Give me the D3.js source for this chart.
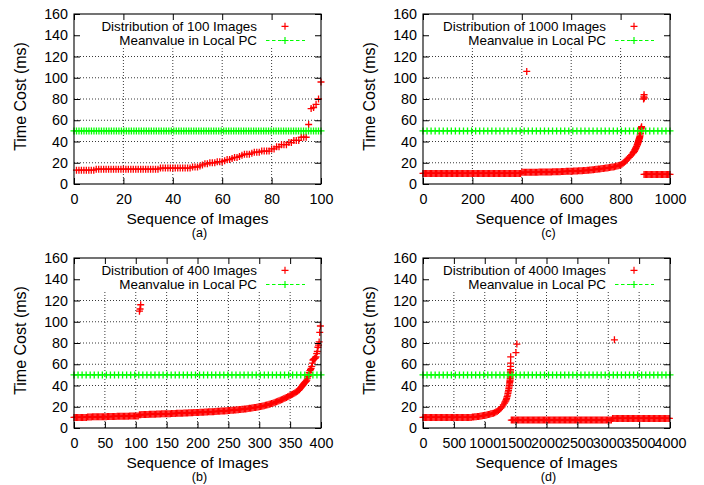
<!DOCTYPE html>
<html>
<head>
<meta charset="utf-8">
<script src="https://cdn.jsdelivr.net/npm/d3@7"></script>
<style>
  body { margin: 0; background: #fff; }
  svg text { font-family: "Liberation Sans", Arial, Helvetica, sans-serif; fill: #000; }
</style>
</head>
<body>
<svg id="fig" width="704" height="485"></svg>
<script>
// ---- data (time cost in ms per image) ----

// (a) every one of the 100 images, seq 1..100
const imgs100 = [13,13,13,13,13,13,13,13,
  14,14,14,14,14,14,14,14,14,14,14,14,14,14,14,14,14,14,14,14,14,14,14,14,14,14,
  15,15,15,15,15,15,15,15,15,15,15,15,15,
  16,16,16,17,18,19,19,20,20,20,21,21,21,22,23,23,24,25,25,26,27,28,28,28,29,
  30,30,30,31,31,31,31,33,33,35,35,37,37,37,39,39,41,41,41,44,44,44,
  56,71,72,75,80,96];

// (b) 400 images: every 2nd image from seq 0 to 364, then the tail and outliers as [seq, ms]
const ms400 = [
  10,10,10,10,10,10,10,10,10,10,10,
  10.4,10.4,10.4,10.4,10.5,10.5,10.5,10.5,10.6,10.6,10.6,10.6,10.7,10.7,10.7,10.7,10.8,10.8,10.8,10.8,10.9,
  10.9,10.9,10.9,11,11,11,11,11,11,11.1,11.1,11.1,11.1,11.2,11.2,11.2,11.2,11.3,11.3,11.3,11.3,
  12.5,12.5,12.6,12.6,12.7,12.7,12.8,12.8,12.9,12.9,13,13,13,13,13.1,13.1,13.2,13.2,13.3,13.3,13.3,13.3,
  13.4,13.4,13.5,13.5,13.6,13.6,
  13.7,13.7,13.8,13.8,13.9,13.9,14,14,14.1,14.1,14.2,14.2,14.3,14.3,14.4,14.4,14.5,14.5,14.6,14.6,
  14.7,14.8,14.8,14.9,14.9,15,15,15.1,15.2,15.3,15.3,15.4,15.4,15.5,15.6,15.7,15.7,15.8,15.9,16,16,16.1,
  16.2,16.3,16.4,
  16.5,16.6,16.7,16.8,16.9,17,17.1,17.2,17.4,17.5,17.6,17.7,17.9,18,18.2,18.3,18.5,18.6,18.8,19,19.2,
  19.4,19.6,19.8,20,
  20.2,20.5,20.7,21,21.3,21.6,21.9,22.3,22.6,23,23.4,23.8,24.2,24.7,25.1,25.6,26.1,26.6,27.1,27.7,28.2,
  28.8,29.4,30,30.6,31.2,31.8,32.4,33.1,33.8,34.6,35.5
];
const tail400 = [
  [365,36.3],[366,37],[367,37.8],[368,38.5],[369,39.2],[370,40],[371,40.7],[372,41.5],[373,42.2],
  [374,43],[375,43.5],[376,44],[377,45],[378,47],[379,48.5],[380,50],[381,52],[382,54],[383,55],
  [384,56],[385,58],[386,61],[387,64],[388,64.5],[389,65],[390,65.5],[391,66],[392,67],[393,70],
  [394,72],[395,76],[396,78],[397,81],[398,90],[399,96],
  [106,110],[107,112],[108,116]
];

// (c) 1000 images: every 5th image from 0 to 850, the steep tail, outliers, then the last run
const ms1000 = [
  10,10,10,10,10,10,10,10,10,10,10,10,10,10,10,10,10,10,10,10,
  10,10,10,10,10,10,10,10,10,10,10,10,10,10,10,10,10,10,10,10,
  10,10,10,10,10,10,10,10,10,10,10,10,10,10,10,10,10,10,10,10,
  10,10,10,10,10,10,10,10,10,10,10,10,10,10,10,10,10,10,10,10,
  11,11,11,11,11,11,11,11,11,11,11,11,11,11,
  11.2,11.2,11.2,11.3,11.3,11.3,11.3,11.4,11.4,11.4,11.4,11.5,11.5,11.5,11.5,11.6,11.6,11.6,
  11.7,11.7,11.8,11.8,11.9,11.9,12,12,12.1,12.1,12.2,12.2,12.3,12.3,12.4,12.4,12.5,12.5,12.6,12.7,
  12.8,12.9,13,13.1,13.2,13.3,13.5,13.6,13.8,13.9,14.1,14.2,14.4,14.5,14.7,14.8,15,15.1,15.3,15.5,
  15.7,15.9,16.1,16.3,16.6,16.9,17.2,17.6,18,18.7,19.5,20.5,21.5,22.7,24,25.2,26.5,27.7,29
];
const tail1000 = [
  [852,29.7],[853,30],[855,30.7],[856,31],[858,32],[859,32.5],[861,33.5],[862,34],[864,35],
  [865,35.5],[867,36.5],[868,37],[869,37.7],[870,38.5],[871,39.2],[872,40],[873,40.7],[874,41.5],
  [875,42.2],[876,43],[877,43.7],[878,44.5],[879,46],[880,47.5],[881,49],[882,50.5],[883,52],
  [884,53],[885,54],
  [420,106],[893,80],[894,82],[895,84],[896,81]
];
const last1000 = [9,9,9,9,9,9,9,9,9,9,9,9,9,9,9,9,9,9,9,9,9,9];   // seq 895..1000, every 5th

// (d) 4000 images: every 20th image from 0 to 1320, the steep tail, outliers, then two later runs
const ms4000 = [
  10,10,10,10,10,10,10,10,10,10,10,10,10,10,10,10,10,10,10,10,
  10,10,10,10,10,10,10,10,10,10,10,10,10,10,10,10,10,10,10,10,
  10.3,10.4,10.5,10.6,10.8,10.9,11.1,11.3,11.5,11.7,11.9,12.1,12.4,12.7,13,13.3,13.6,14,14.4,15,
  15.6,16.5,17.5,18.7,20,21.7,23.5
];
const tail4000 = [
  [1330,24.5],[1340,25.5],[1348,26.7],[1355,28],[1362,29.5],[1370,31],[1375,32.5],[1380,34],
  [1385,35.5],[1390,37],[1394,38.5],[1398,40],[1402,41.5],[1405,43],[1408,44],[1410,45],
  [1412,46.5],[1413,48],[1414,50],[1415,52],[1416,53.5],[1417,55],[1418,58],[1419,61],[1420,67],
  [1505,71],[1520,79],[3100,83]
];
// seq 1430..3050, every 20th
const mid4000 = [
  7.5,7.5,7.5,7.5,7.5,7.5,7.5,7.5,7.5,7.5,7.5,7.5,7.5,7.5,7.5,7.5,7.5,7.5,7.5,7.5,
  7.5,7.5,7.5,7.5,7.5,7.5,7.5,7.5,7.5,7.5,7.5,7.5,7.5,7.5,7.5,7.5,7.5,7.5,7.5,7.5,
  7.5,7.5,7.5,7.5,7.5,7.5,7.5,7.5,7.5,7.5,7.5,7.5,7.5,7.5,7.5,7.5,7.5,7.5,7.5,7.5,
  7.5,7.5,7.5,7.5,7.5,7.5,7.5,7.5,7.5,7.5,7.5,7.5,7.5,7.5,7.5,7.5,7.5,7.5,7.5,7.5,
  7.5,7.5
];
// seq 3070..3990, every 20th
const last4000 = [
  9,9,9,9,9,9,9,9,9,9,9,9,9,9,9,9,9,9,9,9,
  9,9,9,9,9,9,9,9,9,9,9,9,9,9,9,9,9,9,9,9,
  9,9,9,9,9,9,9
];

// mean value in local PC (constant) and how many samples gnuplot drew of it
const MEAN_MS = 50;
const MEAN_SAMPLES = [100, 62, 62, 62];

// tick labels
const Y_TICKS = [0, 20, 40, 60, 80, 100, 120, 140, 160];
const X_TICKS_100 = [0, 20, 40, 60, 80, 100];
const X_TICKS_400 = [0, 50, 100, 150, 200, 250, 300, 350, 400];
const X_TICKS_1000 = [0, 200, 400, 600, 800, 1000];
const X_TICKS_4000 = [0, 500, 1000, 1500, 2000, 2500, 3000, 3500, 4000];

// turn an every-nth-image run into [seq, ms] pairs
function strided(start, stride, values) {
  return values.map((v, i) => [start + i * stride, v]);
}

// ---- layout ----
const PLOT_W = 247;
const PLOT_H = 170;
const RED = "#ff0000";
const GREEN = "#00ff00";
const PLUS = "M-3.5,0H3.5M0,-3.5V3.5";

const svg = d3.select("#fig");

const panels = [
  {cap: "(a)", count: 100, left: 74, top: 14, xticks: X_TICKS_100,
   pts: strided(1, 1, imgs100), meanN: MEAN_SAMPLES[0]},
  {cap: "(c)", count: 1000, left: 423, top: 14, xticks: X_TICKS_1000,
   pts: strided(0, 5, ms1000).concat(tail1000, strided(895, 5, last1000)), meanN: MEAN_SAMPLES[1]},
  {cap: "(b)", count: 400, left: 74, top: 258, xticks: X_TICKS_400,
   pts: strided(0, 2, ms400).concat(tail400), meanN: MEAN_SAMPLES[2]},
  {cap: "(d)", count: 4000, left: 423, top: 258, xticks: X_TICKS_4000,
   pts: strided(0, 20, ms4000).concat(tail4000, strided(1430, 20, mid4000), strided(3070, 20, last4000)),
   meanN: MEAN_SAMPLES[3]}
];

panels.forEach(drawPanel);

function drawPanel(p) {
  const xmax = p.xticks[p.xticks.length - 1];
  const x = d3.scaleLinear().domain([0, xmax]).range([p.left, p.left + PLOT_W]);
  const y = d3.scaleLinear().domain([0, 160]).range([p.top + PLOT_H, p.top]);
  const g = svg.append("g");

  // dotted grid
  g.append("g").selectAll("line").data(p.xticks.slice(1, -1)).join("line")
    .attr("x1", d => x(d)).attr("x2", d => x(d))
    .attr("y1", y(0)).attr("y2", y(160));
  g.append("g").selectAll("line").data(Y_TICKS.slice(1, -1)).join("line")
    .attr("x1", x(0)).attr("x2", x(xmax))
    .attr("y1", d => y(d)).attr("y2", d => y(d));
  g.selectAll("line")
    .attr("stroke", "#222").attr("stroke-width", 0.9).attr("stroke-dasharray", "1,2");

  // key box hides the grid
  g.append("rect")
    .attr("x", x(0) + 1).attr("y", y(160))
    .attr("width", PLOT_W - 2).attr("height", 32)
    .attr("fill", "#fff");

  // distribution points
  g.append("g").selectAll("path").data(p.pts).join("path")
    .attr("transform", d => `translate(${x(d[0])},${y(d[1])})`)
    .attr("d", PLUS)
    .attr("stroke", RED).attr("stroke-width", 1.3).attr("fill", "none");

  // mean line
  const meanX = d3.range(p.meanN).map(i => xmax * i / (p.meanN - 1));
  g.append("line")
    .attr("x1", x(0)).attr("x2", x(xmax))
    .attr("y1", y(MEAN_MS)).attr("y2", y(MEAN_MS))
    .attr("stroke", GREEN).attr("stroke-width", 1.3).attr("stroke-dasharray", "3.5,2.5");
  g.append("g").selectAll("path").data(meanX).join("path")
    .attr("transform", d => `translate(${x(d)},${y(MEAN_MS)})`)
    .attr("d", PLUS)
    .attr("stroke", GREEN).attr("stroke-width", 1.3).attr("fill", "none");

  // axes, ticks pointing inward on all four sides
  const fontFix = s => s.attr("font-family", null).attr("font-size", 14.3);
  g.append("g").attr("transform", `translate(0,${y(0)})`)
    .call(d3.axisBottom(x).tickValues(p.xticks).tickSize(-6).tickPadding(9.5).tickFormat(d3.format("d")))
    .call(fontFix).call(s => s.select(".domain").remove());
  g.append("g").attr("transform", `translate(${x(0)},0)`)
    .call(d3.axisLeft(y).tickValues(Y_TICKS).tickSize(-6).tickPadding(6))
    .call(fontFix).call(s => s.select(".domain").remove());
  g.append("g").attr("transform", `translate(0,${y(160)})`)
    .call(d3.axisTop(x).tickValues(p.xticks).tickSize(-6).tickFormat(""))
    .call(s => s.select(".domain").remove());
  g.append("g").attr("transform", `translate(${x(xmax)},0)`)
    .call(d3.axisRight(y).tickValues(Y_TICKS).tickSize(-6).tickFormat(""))
    .call(s => s.select(".domain").remove());
  g.selectAll(".tick line").attr("stroke-width", 1);

  g.append("rect")
    .attr("x", x(0)).attr("y", y(160))
    .attr("width", PLOT_W).attr("height", PLOT_H)
    .attr("fill", "none").attr("stroke", "#000").attr("stroke-width", 1.1);

  // key
  const kx = p.left + PLOT_W;
  g.append("text")
    .attr("x", kx - 64).attr("y", p.top + 16.5)
    .attr("text-anchor", "end").attr("font-size", 13.4)
    .text(`Distribution of ${p.count} Images`);
  g.append("text")
    .attr("x", kx - 64).attr("y", p.top + 31)
    .attr("text-anchor", "end").attr("font-size", 13.4)
    .text("Meanvalue in Local PC");
  g.append("path")
    .attr("transform", `translate(${kx - 36},${p.top + 12.3})`)
    .attr("d", PLUS).attr("stroke", RED).attr("stroke-width", 1.2);
  g.append("line")
    .attr("x1", kx - 55).attr("x2", kx - 16)
    .attr("y1", p.top + 26.5).attr("y2", p.top + 26.5)
    .attr("stroke", GREEN).attr("stroke-width", 1.2).attr("stroke-dasharray", "3.5,2.5");
  g.append("path")
    .attr("transform", `translate(${kx - 36},${p.top + 26.5})`)
    .attr("d", PLUS).attr("stroke", GREEN).attr("stroke-width", 1.2);

  // axis titles and caption
  g.append("text")
    .attr("x", p.left + PLOT_W / 2).attr("y", p.top + PLOT_H + 40)
    .attr("text-anchor", "middle").attr("font-size", 15.5)
    .text("Sequence of Images");
  g.append("text")
    .attr("x", p.left + PLOT_W / 2 + 2).attr("y", p.top + PLOT_H + 53)
    .attr("text-anchor", "middle").attr("font-size", 12.5)
    .text(p.cap);
  g.append("text")
    .attr("transform", `translate(${p.left - 48},${p.top + 82.5}) rotate(-90)`)
    .attr("text-anchor", "middle").attr("font-size", 16)
    .text("Time Cost (ms)");
}
</script>
</body>
</html>
